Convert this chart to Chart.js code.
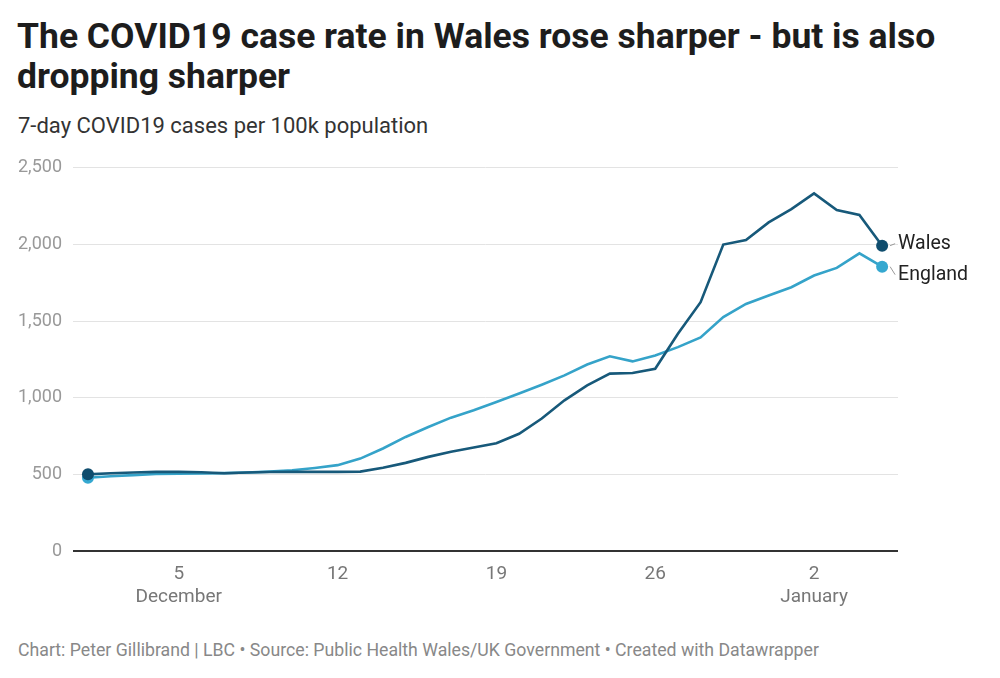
<!DOCTYPE html>
<html>
<head>
<meta charset="utf-8">
<script src="https://cdn.jsdelivr.net/npm/chart.js@4.4.0/dist/chart.umd.min.js"></script>
<style>
  html, body { margin: 0; padding: 0; background: #fff; }
  body { width: 1000px; height: 678px; position: relative; overflow: hidden; font-family: Roboto, "Noto Sans", sans-serif; }
  #title { position: absolute; left: 17px; top: 16px; width: 960px; font-weight: 700; font-size: 35.5px; line-height: 40px; color: #1d1d1d; }
  #subtitle { position: absolute; left: 18px; top: 113px; font-size: 22px; color: #333; }
  #footer { position: absolute; left: 18px; top: 640px; font-size: 17.7px; color: #888; }
  #wrap { position: absolute; left: 0; top: 146px; width: 1000px; height: 474px; }
</style>
</head>
<body>
<div id="title">The COVID19 case rate in Wales rose sharper - but is also dropping sharper</div>
<div id="subtitle">7-day COVID19 cases per 100k population</div>
<div id="wrap"><canvas id="c"></canvas></div>
<div id="footer">Chart: Peter Gillibrand | LBC • Source: Public Health Wales/UK Government • Created with Datawrapper</div>
<script>
// Dates: 1 Dec 2020 .. 5 Jan 2021 (one entry per day)
const days = [
  '1 Dec','2 Dec','3 Dec','4 Dec','5 Dec','6 Dec','7 Dec','8 Dec','9 Dec','10 Dec',
  '11 Dec','12 Dec','13 Dec','14 Dec','15 Dec','16 Dec','17 Dec','18 Dec','19 Dec','20 Dec',
  '21 Dec','22 Dec','23 Dec','24 Dec','25 Dec','26 Dec','27 Dec','28 Dec','29 Dec','30 Dec',
  '31 Dec','1 Jan','2 Jan','3 Jan','4 Jan','5 Jan'
];
const wales = [
  500, 507, 512, 516, 516, 514, 507, 512, 515, 516,
  516, 516, 518, 543, 575, 614, 647, 675, 703, 765,
  864, 983, 1081, 1157, 1161, 1189, 1417, 1623, 1999, 2029,
  2144, 2231, 2333, 2224, 2192, 1992
];
const england = [
  478, 488, 495, 502, 505, 506, 508, 512, 518, 527,
  542, 560, 603, 669, 744, 809, 870, 918, 972, 1027,
  1085, 1146, 1217, 1270, 1237, 1276, 1330, 1393, 1526, 1612,
  1667, 1721, 1797, 1847, 1942, 1855
];
const seriesNames = ['Wales', 'England'];
const xTickIndex = [4, 11, 18, 25, 32];
const xTickLabels = ['5', '12', '19', '26', '2'];
const xMonthLabels = ['December', '', '', '', 'January'];
const yTicks = [0, 500, 1000, 1500, 2000, 2500];

const colors = { Wales: '#17597a', England: '#35a3c9' };
const dotColors = { Wales: '#0f4d6e', England: '#35a8d0' };

function toPts(arr) { return arr.map((v, i) => ({ x: i, y: v })); }
function radii(n) { return Array.from({ length: n }, (_, i) => (i === 0 || i === n - 1) ? 6 : 0); }

const endLabels = {
  id: 'endLabels',
  afterDatasetsDraw(chart) {
    const ctx = chart.ctx;
    const offsets = [-2, 8];
    chart.data.datasets.forEach((ds, di) => {
      const meta = chart.getDatasetMeta(di);
      const p = meta.data[meta.data.length - 1];
      const ty = p.y + offsets[di];
      ctx.save();
      ctx.strokeStyle = '#999';
      ctx.lineWidth = 1;
      ctx.beginPath();
      ctx.moveTo(p.x + 8, p.y);
      ctx.lineTo(p.x + 13, ty);
      ctx.stroke();
      ctx.fillStyle = '#222';
      ctx.font = '19.5px Roboto, "Noto Sans", sans-serif';
      ctx.textBaseline = 'middle';
      ctx.textAlign = 'left';
      ctx.fillText(ds.label, p.x + 16, ty);
      ctx.restore();
    });
  }
};

new Chart(document.getElementById('c'), {
  type: 'line',
  data: {
    datasets: [
      { label: seriesNames[0], data: toPts(wales), borderColor: colors.Wales, backgroundColor: dotColors.Wales,
        pointBackgroundColor: dotColors.Wales, pointBorderWidth: 0, borderWidth: 2.6, pointRadius: radii(wales.length), tension: 0 },
      { label: seriesNames[1], data: toPts(england), borderColor: colors.England, backgroundColor: dotColors.England,
        pointBackgroundColor: dotColors.England, pointBorderWidth: 0, borderWidth: 2.6, pointRadius: radii(england.length), tension: 0 }
    ]
  },
  options: {
    responsive: true,
    maintainAspectRatio: false,
    animation: false,
    events: [],
    layout: { padding: { left: 0, right: 102, top: 0, bottom: 0 } },
    plugins: { legend: { display: false }, tooltip: { enabled: false } },
    scales: {
      x: {
        type: 'linear',
        min: -0.66,
        max: 35.7,
        afterBuildTicks(scale) { scale.ticks = xTickIndex.map(v => ({ value: v })); },
        afterFit(scale) { scale.height = 69; },
        grid: { display: false, drawTicks: false },
        border: { display: false },
        ticks: {
          autoSkip: false,
          maxRotation: 0,
          padding: 11,
          color: '#777',
          font: { family: 'Roboto', size: 19, lineHeight: 1.25 },
          callback(v) {
            const k = xTickIndex.indexOf(v);
            if (k < 0) return '';
            return xMonthLabels[k] ? [xTickLabels[k], xMonthLabels[k]] : xTickLabels[k];
          }
        }
      },
      y: {
        min: 0,
        max: 2500,
        afterBuildTicks(scale) { scale.ticks = yTicks.map(v => ({ value: v })); },
        afterFit(scale) { scale.width = 73; },
        border: { display: false },
        grid: {
          drawTicks: false,
          color: c => c.tick.value === 0 ? '#333' : '#e3e3e3',
          lineWidth: c => c.tick.value === 0 ? 2 : 1
        },
        ticks: {
          padding: 11,
          color: '#999',
          font: { family: 'Roboto', size: 18 },
          callback: v => v.toLocaleString('en-US')
        }
      }
    }
  },
  plugins: [endLabels]
});
</script>
</body>
</html>
